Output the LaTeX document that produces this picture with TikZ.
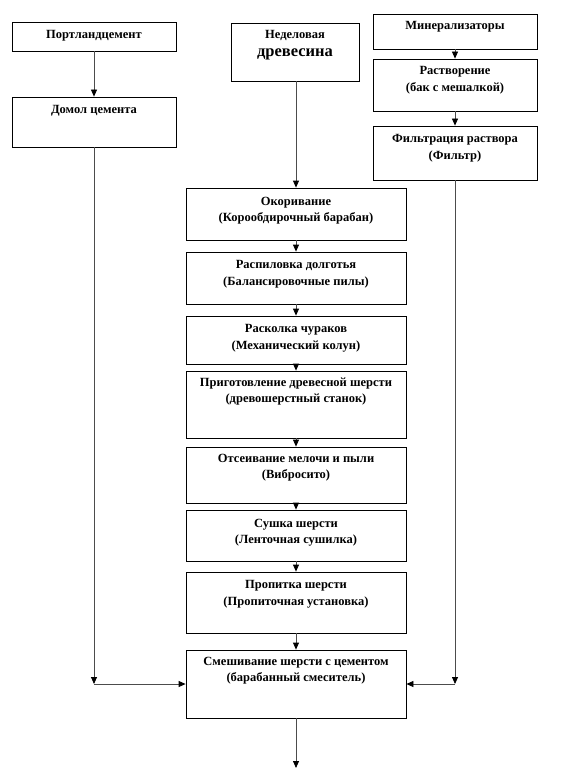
\documentclass[tikz,border=0pt]{standalone}
\usepackage{fontspec}
\setmainfont{Liberation Serif}
\usetikzlibrary{arrows.meta}

\begin{document}
\begin{tikzpicture}[
  x=1pt, y=-1pt,
  every node/.style={inner sep=0pt},
  stage/.style={draw, line width=0.8pt, minimum width=220pt},
  side/.style={draw, line width=0.8pt, minimum width=164pt},
  txt/.style={font=\fontsize{12.5}{16.5}\selectfont\bfseries, align=center},
  flow/.style={-{Triangle[length=7pt, width=6pt, color=black]}, line width=0.8pt, black!70},
]
  \useasboundingbox (0,0) rectangle (567,773);
  % Nodes: left column
  \node[side, minimum height=29pt, label={[txt, anchor=north, yshift=-9pt]north:Портландцемент}] (portl) at (94, 36.5) {};
  \node[side, minimum height=50pt, label={[txt, anchor=north, yshift=-9pt]north:Домол цемента}] (domol) at (94, 122) {};
  % Nodes: right column
  \node[side, minimum height=35pt, label={[txt, anchor=north, yshift=-8pt]north:Минерализаторы}] (miner) at (455, 31.5) {};
  \node[side, minimum height=52pt, label={[txt, anchor=north, yshift=-8pt]north:Растворение\\(бак с мешалкой)}] (rastv) at (455, 85) {};
  \node[side, minimum height=54pt, label={[txt, anchor=north, yshift=-9pt]north:Фильтрация раствора\\(Фильтр)}] (filtr) at (455, 153) {};
  % Nodes: middle column
  \node[draw, line width=0.8pt, minimum width=128pt, minimum height=58pt,
    label={[align=center, anchor=north, yshift=-8pt]north:{\fontsize{12.5}{15}\selectfont\bfseries Неделовая\\[6pt]\fontsize{16.5}{17}\selectfont\bfseries древесина}}] (nedel) at (295, 52) {};
  \node[stage, minimum height=52pt, label={[txt, anchor=north, yshift=-9pt]north:Окоривание\\(Корообдирочный барабан)}] (okor) at (296, 214) {};
  \node[stage, minimum height=52pt, label={[txt, anchor=north, yshift=-9pt]north:Распиловка долготья\\(Балансировочные пилы)}] (raspil) at (296, 278) {};
  \node[stage, minimum height=48pt, label={[txt, anchor=north, yshift=-9pt]north:Расколка чураков\\(Механический колун)}] (raskol) at (296, 340) {};
  \node[stage, minimum height=67pt, label={[txt, anchor=north, yshift=-7pt]north:Приготовление древесной шерсти\\(древошерстный станок)}] (prigot) at (296, 404.5) {};
  \node[stage, minimum height=56pt, label={[txt, anchor=north, yshift=-7pt]north:Отсеивание мелочи и пыли\\(Вибросито)}] (otsev) at (296, 475) {};
  \node[stage, minimum height=51pt, label={[txt, anchor=north, yshift=-9pt]north:Сушка шерсти\\(Ленточная сушилка)}] (sushka) at (296, 535.5) {};
  \node[stage, minimum height=61pt, label={[txt, anchor=north, yshift=-9pt]north:Пропитка шерсти\\(Пропиточная установка)}] (propit) at (296, 602.5) {};
  \node[stage, minimum height=68pt, label={[txt, anchor=north, yshift=-7pt]north:Смешивание шерсти с цементом\\(барабанный смеситель)}] (smesh) at (296, 684) {};
  % Bends and free end
  \coordinate (cl) at (94, 684);
  \coordinate (cr) at (455, 684);
  \coordinate (out) at (296, 768);
  % Edges
  \draw[flow] (portl) -- (domol);
  \draw[flow] (miner) -- (rastv);
  \draw[flow] (rastv) -- (filtr);
  \draw[flow] (nedel.south -| okor.north) -- (okor);
  \draw[flow] (okor) -- (raspil);
  \draw[flow] (raspil) -- (raskol);
  \draw[flow] (raskol) -- (prigot);
  \draw[flow] (prigot) -- (otsev);
  \draw[flow] (otsev) -- (sushka);
  \draw[flow] (sushka) -- (propit);
  \draw[flow] (propit) -- (smesh);
  \draw[flow] (smesh) -- (out);
  % Cement and mineraliser feeds into the mixer
  \draw[flow] (domol) -- (cl);
  \draw[flow] (cl) -- (smesh.west);
  \draw[flow] (filtr) -- (cr);
  \draw[flow] (cr) -- (smesh.east);
\end{tikzpicture}
\end{document}
